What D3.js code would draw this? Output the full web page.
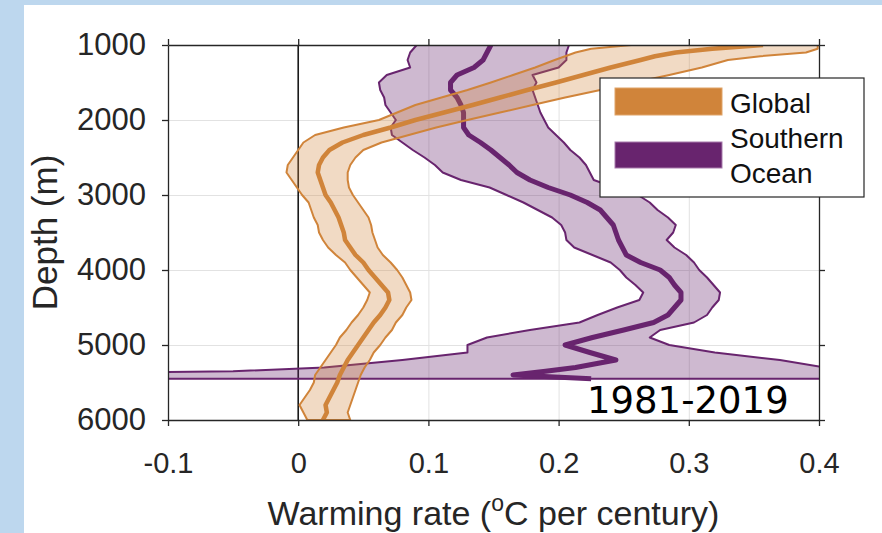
<!DOCTYPE html>
<html>
<head>
<meta charset="utf-8">
<script src="https://cdn.jsdelivr.net/npm/d3@7"></script>
<style>
  body { margin: 0; background: #ffffff; }
  svg { display: block; }
</style>
</head>
<body>
<div id="chart"></div>
<script>
// Global profile: depth (m), mean warming rate and the edges of its band (degC per century)
var globalDepth = [1000, 1050, 1100, 1150, 1200, 1300, 1400, 1500, 1600, 1700, 1800, 1900, 2000,
  2100, 2200, 2300, 2400, 2500, 2600, 2700, 2800, 2900, 3000, 3100, 3200, 3300, 3400, 3500,
  3600, 3700, 3800, 3900, 4000, 4100, 4200, 4300, 4400, 4500, 4600, 4700, 4800, 4900, 5000,
  5100, 5200, 5300, 5400, 5500, 5600, 5700, 5800, 5900, 6000];
var globalMean = [0.357, 0.318, 0.29, 0.274, 0.263, 0.24, 0.219, 0.198, 0.176, 0.155, 0.134, 0.112, 0.09,
  0.071, 0.05, 0.034, 0.024, 0.019, 0.016, 0.015, 0.017, 0.019, 0.021, 0.025, 0.028, 0.031, 0.033, 0.035,
  0.036, 0.04, 0.044, 0.05, 0.054, 0.059, 0.064, 0.069, 0.07, 0.067, 0.063, 0.058, 0.054, 0.05, 0.046,
  0.042, 0.038, 0.035, 0.032, 0.03, 0.027, 0.024, 0.021, 0.022, 0.019];
var globalLow = [0.256, 0.225, 0.213, 0.205, 0.197, 0.182, 0.165, 0.148, 0.13, 0.11, 0.09, 0.076, 0.062,
  0.035, 0.013, 0.004, 0.0, -0.004, -0.008, -0.009, -0.005, -0.001, 0.003, 0.008, 0.01, 0.012, 0.015, 0.016,
  0.019, 0.023, 0.029, 0.036, 0.04, 0.045, 0.05, 0.055, 0.053, 0.05, 0.046, 0.041, 0.037, 0.032, 0.029,
  0.025, 0.021, 0.017, 0.013, 0.012, 0.009, 0.005, 0.001, 0.004, 0.007];
var globalHigh = [0.399, 0.399, 0.39, 0.355, 0.33, 0.31, 0.285, 0.258, 0.232, 0.205, 0.18, 0.155, 0.13,
  0.106, 0.085, 0.064, 0.05, 0.044, 0.04, 0.038, 0.038, 0.039, 0.042, 0.046, 0.05, 0.054, 0.056, 0.057,
  0.059, 0.061, 0.065, 0.071, 0.076, 0.08, 0.083, 0.086, 0.087, 0.083, 0.08, 0.075, 0.072, 0.067, 0.063,
  0.058, 0.055, 0.051, 0.048, 0.046, 0.044, 0.042, 0.04, 0.038, 0.04];

// Southern Ocean profile
var soDepth = [1000, 1100, 1200, 1300, 1400, 1500, 1600, 1700, 1800, 1900, 2000, 2100, 2200, 2300,
  2400, 2500, 2600, 2700, 2800, 2900, 3000, 3100, 3200, 3300, 3400, 3500, 3600, 3700, 3800, 3900,
  4000, 4100, 4200, 4300, 4400, 4500, 4600, 4700, 4800, 4900, 5000, 5100, 5200, 5300, 5350, 5400, 5450];
var soMean = [0.148, 0.145, 0.142, 0.135, 0.122, 0.117, 0.117, 0.122, 0.125, 0.127, 0.127, 0.127, 0.131, 0.14,
  0.148, 0.155, 0.162, 0.168, 0.178, 0.192, 0.209, 0.222, 0.232, 0.237, 0.242, 0.244, 0.246, 0.249, 0.252, 0.263,
  0.278, 0.285, 0.289, 0.294, 0.294, 0.289, 0.284, 0.273, 0.25, 0.226, 0.205, 0.224, 0.244, 0.213, 0.19, 0.165, 0.225];
var soLow = [0.091, 0.086, 0.084, 0.086, 0.068, 0.062, 0.063, 0.066, 0.067, 0.071, 0.075, 0.071, 0.072, 0.08,
  0.088, 0.097, 0.105, 0.111, 0.125, 0.147, 0.16, 0.173, 0.184, 0.195, 0.202, 0.205, 0.206, 0.212, 0.226, 0.24,
  0.247, 0.252, 0.259, 0.265, 0.262, 0.245, 0.23, 0.216, 0.178, 0.145, 0.13, 0.13, 0.08, 0.02, -0.05, -0.3, -0.6];
var soHigh = [0.208, 0.206, 0.206, 0.2, 0.18, 0.183, 0.18, 0.182, 0.184, 0.186, 0.189, 0.192, 0.198, 0.204,
  0.209, 0.216, 0.221, 0.224, 0.227, 0.243, 0.261, 0.27, 0.276, 0.284, 0.29, 0.288, 0.283, 0.289, 0.298, 0.304,
  0.308, 0.314, 0.319, 0.324, 0.323, 0.318, 0.314, 0.304, 0.278, 0.27, 0.285, 0.32, 0.37, 0.405, 0.43, 0.45, 0.5];

var xTicks = [-0.1, 0, 0.1, 0.2, 0.3, 0.4];
var xTickLabels = ["-0.1", "0", "0.1", "0.2", "0.3", "0.4"];
var yTicks = [1000, 2000, 3000, 4000, 5000, 6000];
var seriesNames = ["Global", "Southern Ocean"];
var periodLabel = "1981-2019";

var orange = "#d0843a";
var purple = "#68246e";
var axisColor = "#262626";
var font = "'Liberation Sans', Arial, Helvetica, sans-serif";

var W = 882, H = 533;
var plot = { left: 168, right: 819, top: 45, bottom: 420 };

var svg = d3.select("#chart").append("svg")
  .attr("width", W)
  .attr("height", H);

// slide background: blue strip on the left and top
svg.append("rect").attr("width", W).attr("height", H).attr("fill", "#bdd7ee");
svg.append("rect").attr("x", 24).attr("y", 5).attr("width", W - 24).attr("height", H - 5).attr("fill", "#ffffff");

var x = d3.scaleLinear().domain([-0.1, 0.4]).range([plot.left, plot.right]);
var y = d3.scaleLinear().domain([1000, 6000]).range([plot.top, plot.bottom]);

svg.append("clipPath").attr("id", "plot-clip")
  .append("rect")
  .attr("x", plot.left).attr("y", plot.top)
  .attr("width", plot.right - plot.left).attr("height", plot.bottom - plot.top);

// grid lines
svg.append("g")
  .attr("transform", "translate(0," + plot.bottom + ")")
  .call(d3.axisBottom(x).tickValues(xTicks).tickSize(-(plot.bottom - plot.top)).tickFormat(""))
  .call(function (g) {
    g.select(".domain").remove();
    g.selectAll("line").attr("stroke", "#e2e2e2").attr("stroke-width", 1);
  });
svg.append("g")
  .attr("transform", "translate(" + plot.left + ",0)")
  .call(d3.axisLeft(y).tickValues(yTicks).tickSize(-(plot.right - plot.left)).tickFormat(""))
  .call(function (g) {
    g.select(".domain").remove();
    g.selectAll("line").attr("stroke", "#e2e2e2").attr("stroke-width", 1);
  });

var data = svg.append("g").attr("clip-path", "url(#plot-clip)");

// zero line
data.append("line")
  .attr("x1", x(0)).attr("x2", x(0))
  .attr("y1", plot.top).attr("y2", plot.bottom)
  .attr("stroke", "#1a1a1a").attr("stroke-width", 1.6);

function toRows(depth, mean, low, high) {
  return depth.map(function (d, i) {
    return { depth: d, mean: mean[i], low: low[i], high: high[i] };
  });
}

var polygon = d3.line().x(function (p) { return x(p[0]); }).y(function (p) { return y(p[1]); });
var profile = d3.line().x(function (d) { return x(d.mean); }).y(function (d) { return y(d.depth); });

function addProfile(rows, color, fillOpacity, meanWidth) {
  // band: low edge going down, high edge coming back up
  var pts = rows.map(function (d) { return [d.low, d.depth]; })
    .concat(rows.slice().reverse().map(function (d) { return [d.high, d.depth]; }));
  data.append("path")
    .attr("d", polygon(pts) + "Z")
    .attr("fill", color)
    .attr("fill-opacity", fillOpacity)
    .attr("stroke", color)
    .attr("stroke-width", 2)
    .attr("stroke-linejoin", "round");
  data.append("path")
    .datum(rows)
    .attr("d", profile)
    .attr("fill", "none")
    .attr("stroke", color)
    .attr("stroke-width", meanWidth)
    .attr("stroke-linejoin", "round");
}

addProfile(toRows(soDepth, soMean, soLow, soHigh), purple, 0.32, 5);
addProfile(toRows(globalDepth, globalMean, globalLow, globalHigh), orange, 0.3, 4.5);

// axes box with outward ticks on all four sides
function styleAxis(size) {
  return function (g) {
    g.select(".domain").attr("stroke", axisColor).attr("stroke-width", 1.3);
    g.selectAll(".tick line").attr("stroke", axisColor).attr("stroke-width", 1.3);
    g.selectAll(".tick text")
      .attr("fill", axisColor)
      .style("font-family", font)
      .style("font-size", size);
  };
}

svg.append("g")
  .attr("transform", "translate(0," + plot.bottom + ")")
  .call(d3.axisBottom(x).tickValues(xTicks).tickSizeInner(6).tickSizeOuter(0).tickPadding(26)
    .tickFormat(function (d, i) { return xTickLabels[i]; }))
  .call(styleAxis("29px"));
svg.append("g")
  .attr("transform", "translate(0," + plot.top + ")")
  .call(d3.axisTop(x).tickValues(xTicks).tickSizeInner(6).tickSizeOuter(0).tickFormat(""))
  .call(styleAxis("29px"));
svg.append("g")
  .attr("transform", "translate(" + plot.left + ",0)")
  .call(d3.axisLeft(y).tickValues(yTicks).tickSizeInner(6).tickSizeOuter(0).tickPadding(16)
    .tickFormat(d3.format("d")))
  .call(styleAxis("31px"));
svg.append("g")
  .attr("transform", "translate(" + plot.right + ",0)")
  .call(d3.axisRight(y).tickValues(yTicks).tickSizeInner(6).tickSizeOuter(0).tickFormat(""))
  .call(styleAxis("29px"));

// axis titles
var xTitle = svg.append("text")
  .attr("x", (plot.left + plot.right) / 2)
  .attr("y", 525)
  .attr("text-anchor", "middle")
  .attr("fill", axisColor)
  .style("font-family", font)
  .style("font-size", "34px");
xTitle.append("tspan").text("Warming rate (");
xTitle.append("tspan").attr("dy", -14).style("font-size", "23px").text("o");
xTitle.append("tspan").attr("dy", 14).text("C per century)");

svg.append("text")
  .attr("transform", "translate(57," + (plot.top + plot.bottom) / 2 + ") rotate(-90)")
  .attr("text-anchor", "middle")
  .attr("fill", axisColor)
  .style("font-family", font)
  .style("font-size", "35px")
  .text("Depth (m)");

// legend
var legend = svg.append("g");
legend.append("rect")
  .attr("x", 600).attr("y", 78).attr("width", 264).attr("height", 119)
  .attr("fill", "#ffffff").attr("stroke", axisColor).attr("stroke-width", 1.2);
legend.append("rect")
  .attr("x", 615).attr("y", 88).attr("width", 107).attr("height", 27)
  .attr("fill", orange).attr("stroke", "#e0a468").attr("stroke-width", 1);
legend.append("rect")
  .attr("x", 615).attr("y", 142).attr("width", 107).attr("height", 26)
  .attr("fill", purple).attr("stroke", "#a77aab").attr("stroke-width", 1);
legend.append("text")
  .attr("x", 730).attr("y", 113)
  .attr("fill", "#111111")
  .style("font-family", font).style("font-size", "28px")
  .text(seriesNames[0]);
var soLabel = legend.append("text")
  .attr("x", 730).attr("y", 148)
  .attr("fill", "#111111")
  .style("font-family", font).style("font-size", "28px");
soLabel.selectAll("tspan")
  .data(seriesNames[1].split(" "))
  .join("tspan")
  .attr("x", 730)
  .attr("dy", function (d, i) { return i === 0 ? 0 : 35; })
  .text(function (d) { return d; });

// period annotation
svg.append("text")
  .attr("x", 587).attr("y", 413)
  .attr("fill", "#000000")
  .style("font-family", "'DejaVu Sans', Verdana, sans-serif")
  .style("font-size", "37px")
  .text(periodLabel);
</script>
</body>
</html>
